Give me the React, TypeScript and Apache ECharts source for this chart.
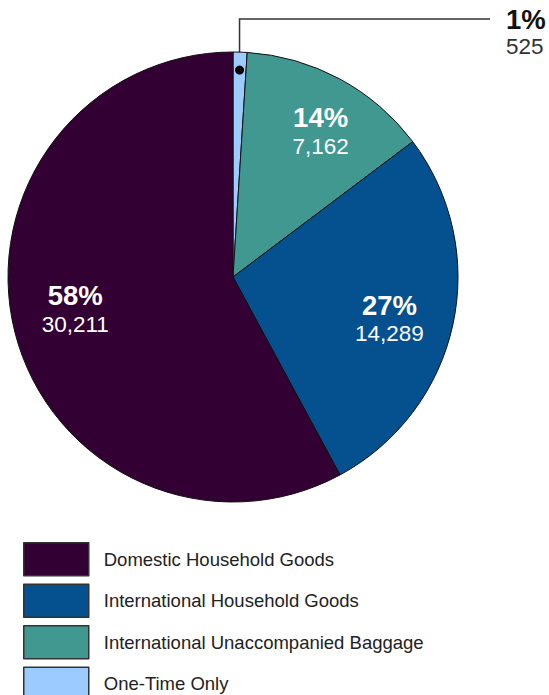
import React, { useEffect, useRef } from "react";
import * as echarts from "echarts";

const categories = [
  "One-Time Only",
  "International Unaccompanied Baggage",
  "International Household Goods",
  "Domestic Household Goods",
];
const values = [525, 7162, 14289, 30211];
const colors = ["#9ccbff", "#409890", "#05508f", "#330033"];
const legendOrder = [
  "Domestic Household Goods",
  "International Household Goods",
  "International Unaccompanied Baggage",
  "One-Time Only",
];

const CX = 233;
const CY = 277;
const R = 225;
const FONT = "'Liberation Sans', Arial, Helvetica, sans-serif";
const labelRadius = [207, 170, 162, 161];
const labelShift = (2.7 * Math.PI) / 180;

function midAngle(i: number) {
  const total = values.reduce((a, b) => a + b, 0);
  let before = 0;
  for (let k = 0; k < i; k++) before += values[k];
  return ((before + values[i] / 2) / total) * 2 * Math.PI;
}
function polar(angle: number, r: number) {
  return [CX + r * Math.sin(angle), CY - r * Math.cos(angle)];
}

export default function App() {
  const ref = useRef<HTMLDivElement>(null);
  useEffect(() => {
    if (!ref.current) return;
    const chart = echarts.init(ref.current, null, { renderer: "svg" });
    const dot = polar(midAngle(0), labelRadius[0]);
    const data = categories.map((name, i) => ({
      name,
      value: values[i],
      itemStyle: { color: colors[i] },
      label:
        i === 0
          ? {
              position: "outside",
              rich: {
                pct: { color: "#111", fontSize: 27.5, fontWeight: "bold", lineHeight: 28, fontFamily: FONT },
                val: { color: "#333", fontSize: 22.5, lineHeight: 26, fontFamily: FONT },
              },
            }
          : { position: "inside" },
      labelLine: { show: i === 0 },
    }));
    chart.setOption({
      animation: false,
      backgroundColor: "#fff",
      legend: {
        data: legendOrder,
        orient: "vertical",
        left: 23,
        top: 542,
        height: 300,
        padding: 0,
        itemWidth: 65,
        itemHeight: 33,
        itemGap: 7,
        icon: "rect",
        itemStyle: { borderColor: "#333", borderWidth: 1.5 },
        textStyle: { fontSize: 18.5, color: "#222", fontFamily: FONT, padding: [0, 0, 0, 10] },
      },
      graphic: [
        {
          type: "circle",
          z: 100,
          shape: { cx: dot[0], cy: dot[1], r: 4.5 },
          style: { fill: "#000" },
        },
      ],
      series: [
        {
          type: "pie",
          center: [CX, CY],
          radius: [0, R],
          startAngle: 90,
          clockwise: true,
          percentPrecision: 0,
          emphasis: { disabled: true },
          itemStyle: { borderColor: "#111", borderWidth: 1 },
          labelLine: { lineStyle: { color: "#333", width: 1.5 } },
          label: {
            show: true,
            formatter: (p: any) =>
              `{pct|${p.percent}%}\n{val|${Number(p.value).toLocaleString("en-US")}}`,
            rich: {
              pct: { color: "#fff", fontSize: 27.5, fontWeight: "bold", lineHeight: 30, fontFamily: FONT },
              val: { color: "#fff", fontSize: 22.5, lineHeight: 27, fontFamily: FONT },
            },
          },
          labelLayout: (p: any) => {
            const i = p.dataIndex;
            if (i === 0) {
              return {
                x: 506,
                y: 5,
                align: "left",
                verticalAlign: "top",
                labelLinePoints: [
                  [dot[0], dot[1]],
                  [dot[0], 19],
                  [490, 19],
                ],
              };
            }
            const [x, y] = polar(midAngle(i) + labelShift, labelRadius[i]);
            return { x, y, align: "center", verticalAlign: "middle" };
          },
          data,
        },
      ],
    });
    return () => chart.dispose();
  }, []);
  return (
    <div
      ref={ref}
      style={{ position: "absolute", left: 0, top: 0, width: 549, height: 695 }}
    />
  );
}
